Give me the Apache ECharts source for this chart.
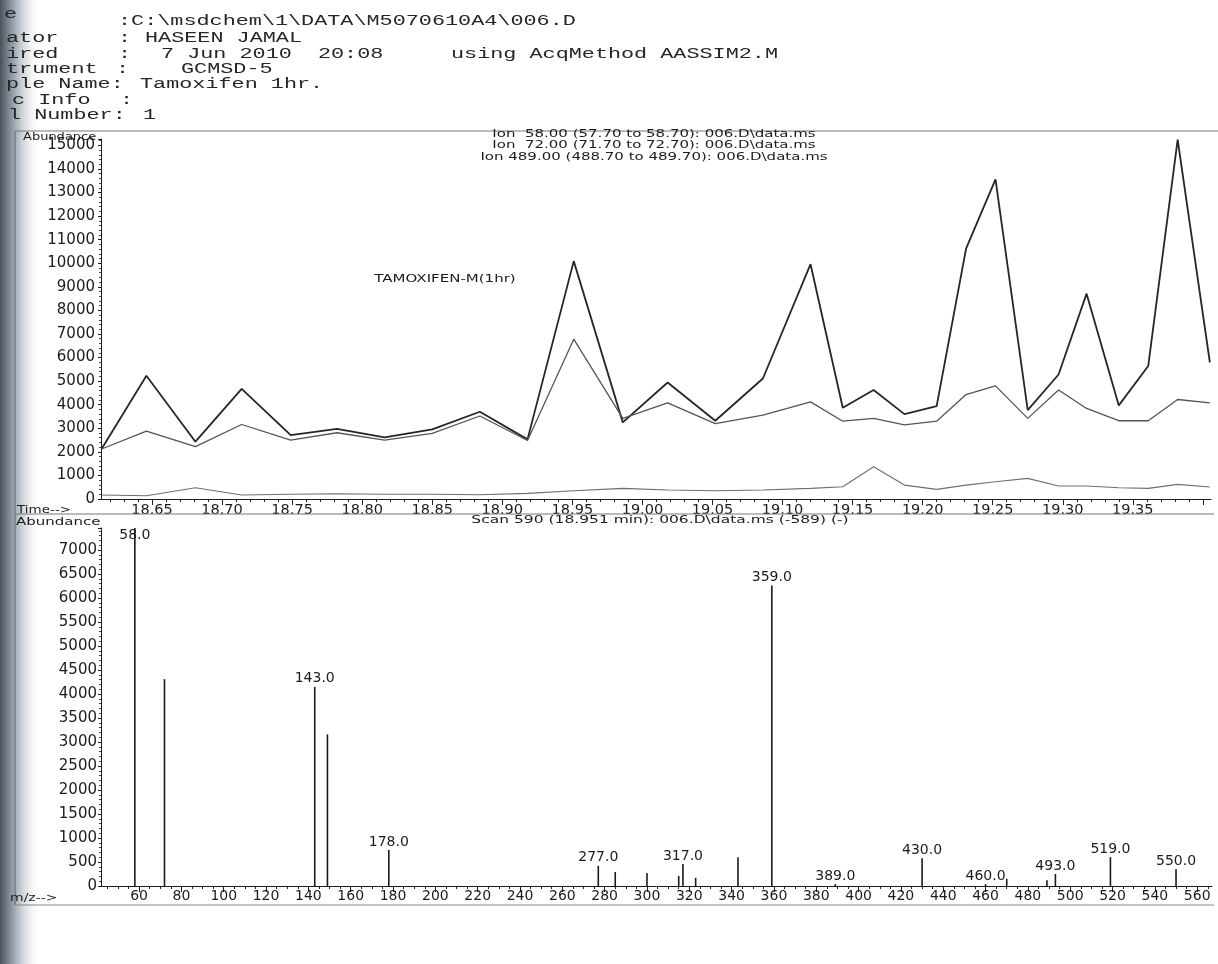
<!DOCTYPE html>
<html><head><meta charset="utf-8">
<script src="https://cdn.jsdelivr.net/npm/echarts@6/dist/echarts.min.js"></script>
<style>html,body{margin:0;padding:0;background:#fff}#c{width:1218px;height:964px}</style>
</head><body><div id="c"></div>
<script>
// ---------- data ----------
const scanTimes = [18.614, 18.646, 18.681, 18.714, 18.749, 18.782, 18.816, 18.850, 18.884, 18.918,
  18.951, 18.986, 19.018, 19.052, 19.086, 19.120, 19.143, 19.165, 19.187, 19.210,
  19.231, 19.252, 19.275, 19.297, 19.317, 19.340, 19.361, 19.382, 19.405];
const ion58 = [2120, 5230, 2430, 4670, 2710, 2970, 2610, 2950, 3700, 2530,
  10090, 3250, 4940, 3320, 5110, 9960, 3870, 4620, 3600, 3940,
  10620, 13560, 3770, 5280, 8710, 3970, 5640, 15240, 5790];
const ion72 = [2120, 2880, 2220, 3160, 2500, 2810, 2500, 2780, 3520, 2480,
  6780, 3420, 4080, 3200, 3560, 4120, 3300, 3420, 3140, 3300,
  4430, 4800, 3420, 4620, 3840, 3320, 3320, 4220, 4080];
const ion489 = [170, 140, 480, 170, 200, 220, 200, 200, 180, 240,
  350, 450, 380, 350, 380, 450, 520, 1370, 590, 410,
  590, 730, 875, 550, 550, 480, 450, 620, 510];
const timeTickLabels = [18.65, 18.70, 18.75, 18.80, 18.85, 18.90, 18.95, 19.00, 19.05, 19.10, 19.15, 19.20, 19.25, 19.30, 19.35];
const timeMajorTicks = [18.65, 18.70, 18.75, 18.80, 18.85, 18.90, 18.95, 19.00, 19.05, 19.10, 19.15, 19.20, 19.25, 19.30, 19.35, 19.40];

const mzValues = [58, 72, 143, 149, 178, 277, 285, 300, 315, 317, 323, 343, 359, 389, 430, 460, 470, 489, 493, 519, 550];
const mzAbundance = [7460, 4310, 4150, 3160, 750, 420, 290, 270, 210, 460, 170, 600, 6260, 40, 580, 40, 150, 120, 250, 600, 350];
const mzLabelled = [58, 143, 178, 277, 317, 359, 389, 430, 460, 493, 519, 550];
const mzTickLabels = [60, 80, 100, 120, 140, 160, 180, 200, 220, 240, 260, 280, 300, 320, 340, 360, 380, 400, 420, 440, 460, 480, 500, 520, 540, 560];

// ---------- helpers ----------
const FONT = 'DejaVu Sans';
const INK = '#1c1c1c';
function steps(a, b, s) { const r = []; for (let v = a; v <= b + 1e-9; v += s) r.push(Math.round(v * 1000) / 1000); return r; }
const timeMinorTicks = steps(18.62, 19.40, 0.01);
const mzMinorTicks = steps(45, 565, 5);

const T_MIN = 18.6136, T_MAX = 19.4058;
const MZ_MIN = 42, MZ_MAX = 567;

function txt(x, y, text, font, opts) {
  return Object.assign({
    type: 'text', x: x, y: y, z: 20, silent: true,
    style: Object.assign({ text: text, font: font, fill: INK, textVerticalAlign: 'middle', textAlign: 'left' }, (opts && opts.style) || {})
  }, (opts && opts.el) || {});
}
function ln(x1, y1, x2, y2, c, w) {
  return { type: 'line', z: 5, silent: true, shape: { x1, y1, x2, y2 }, style: { stroke: c || '#6a6a6a', lineWidth: w || 1 } };
}
const MONO = '21.8px "Liberation Mono"';
const mono = { el: { scaleY: 0.68 }, style: { fill: '#262626' } };
const plain = v => String(Math.round(v));
const R = [21, 38, 54, 69, 84, 100, 115]; // header row centres

const chart = echarts.init(document.getElementById('c'), null, { renderer: 'canvas' });
const option = {
  animation: false,
  backgroundColor: '#ffffff',
  grid: [
    { left: 101, top: 139, width: 1110, height: 360 },
    { left: 101, top: 528, width: 1111, height: 358 }
  ],
  xAxis: [
    { gridIndex: 0, type: 'value', min: T_MIN, max: T_MAX, position: 'bottom',
      axisLine: { show: true, onZero: false, lineStyle: { color: INK, width: 1 } },
      axisTick: { show: true, customValues: timeMajorTicks, length: 6, lineStyle: { color: INK } },
      axisLabel: { customValues: timeTickLabels, formatter: v => v.toFixed(2), fontFamily: FONT, fontSize: 14.5, color: INK, margin: 4 },
      splitLine: { show: false } },
    { gridIndex: 0, type: 'value', min: T_MIN, max: T_MAX, position: 'bottom',
      axisLine: { show: false, onZero: false },
      axisTick: { show: true, customValues: timeMinorTicks, length: 3, lineStyle: { color: INK } },
      axisLabel: { show: false }, splitLine: { show: false } },
    { gridIndex: 1, type: 'value', min: MZ_MIN, max: MZ_MAX, position: 'bottom',
      axisLine: { show: true, onZero: false, lineStyle: { color: INK, width: 1 } },
      axisTick: { show: true, customValues: mzTickLabels, length: 6, lineStyle: { color: INK } },
      axisLabel: { customValues: mzTickLabels, formatter: plain, fontFamily: FONT, fontSize: 14, color: INK, margin: 3 },
      splitLine: { show: false } },
    { gridIndex: 1, type: 'value', min: MZ_MIN, max: MZ_MAX, position: 'bottom',
      axisLine: { show: false, onZero: false },
      axisTick: { show: true, customValues: mzMinorTicks, length: 3, lineStyle: { color: INK } },
      axisLabel: { show: false }, splitLine: { show: false } }
  ],
  yAxis: [
    { gridIndex: 0, type: 'value', min: 0, max: 15270, interval: 1000,
      axisLine: { show: true, lineStyle: { color: INK, width: 1 } },
      axisTick: { show: true, length: 3, lineStyle: { color: INK } },
      minorTick: { show: true, splitNumber: 5, length: 2, lineStyle: { color: '#444' } },
      axisLabel: { showMaxLabel: false, formatter: plain, fontFamily: FONT, fontSize: 15, color: INK, margin: 6 },
      splitLine: { show: false }, minorSplitLine: { show: false } },
    { gridIndex: 1, type: 'value', min: 0, max: 7460, interval: 500,
      axisLine: { show: true, lineStyle: { color: INK, width: 1 } },
      axisTick: { show: true, length: 3, lineStyle: { color: INK } },
      minorTick: { show: true, splitNumber: 5, length: 2, lineStyle: { color: '#444' } },
      axisLabel: { showMaxLabel: false, formatter: plain, fontFamily: FONT, fontSize: 15, color: INK, margin: 4 },
      splitLine: { show: false }, minorSplitLine: { show: false } }
  ],
  series: [
    { name: 'Ion 58.00', type: 'line', xAxisIndex: 0, yAxisIndex: 0, symbol: 'none', silent: true,
      data: scanTimes.map((t, i) => [t, ion58[i]]), lineStyle: { color: '#262626', width: 1.8 } },
    { name: 'Ion 72.00', type: 'line', xAxisIndex: 0, yAxisIndex: 0, symbol: 'none', silent: true,
      data: scanTimes.map((t, i) => [t, ion72[i]]), lineStyle: { color: '#555555', width: 1.3 } },
    { name: 'Ion 489.00', type: 'line', xAxisIndex: 0, yAxisIndex: 0, symbol: 'none', silent: true,
      data: scanTimes.map((t, i) => [t, ion489[i]]), lineStyle: { color: '#6e6e6e', width: 1.1 } },
    { name: 'Scan 590', type: 'bar', xAxisIndex: 2, yAxisIndex: 1, barWidth: 1.6, silent: true,
      itemStyle: { color: '#1a1a1a' },
      label: { show: false, position: 'top', distance: 1, formatter: p => p.value[0].toFixed(1),
        fontFamily: FONT, fontSize: 14, color: INK },
      data: mzValues.map((m, i) => {
        const item = { value: [m, mzAbundance[i]] };
        if (mzLabelled.includes(m)) {
          item.label = (i === 0) ? { show: true, position: 'insideTop', distance: 0, color: INK } : { show: true };
        }
        return item;
      }) }
  ],
  graphic: { elements: [
    { type: 'rect', z: 1, silent: true, shape: { x: 0, y: 0, width: 42, height: 964 },
      style: { fill: new echarts.graphic.LinearGradient(0, 0, 1, 0, [
        { offset: 0, color: '#4a525c' }, { offset: 0.18, color: '#76818c' },
        { offset: 0.5, color: '#c6ced5' }, { offset: 1, color: 'rgba(255,255,255,0)' }]) } },
    // frame lines
    ln(15, 131, 1218, 131, '#777', 1),
    ln(15, 514, 1214, 514, '#777', 1),
    ln(15, 905, 1214, 905, '#888', 1),
    ln(15, 131, 15, 905, '#666', 1),
    // header (typewriter style)
    txt(4, 14, 'e', MONO, mono),
    txt(118, R[0], ':C:\\msdchem\\1\\DATA\\M5070610A4\\006.D', MONO, mono),
    txt(6, R[1], 'ator', MONO, mono), txt(118, R[1], ':', MONO, mono), txt(145, R[1], 'HASEEN JAMAL', MONO, mono),
    txt(6, R[2], 'ired', MONO, mono), txt(118, R[2], ':', MONO, mono), txt(161, R[2], '7 Jun 2010  20:08', MONO, mono),
    txt(451, R[2], 'using AcqMethod AASSIM2.M', MONO, mono),
    txt(6, R[3], 'trument', MONO, mono), txt(116, R[3], ':', MONO, mono), txt(181, R[3], 'GCMSD-5', MONO, mono),
    txt(6, R[4], 'ple Name:', MONO, mono), txt(140, R[4], 'Tamoxifen 1hr.', MONO, mono),
    txt(12, R[5], 'c Info', MONO, mono), txt(120, R[5], ':', MONO, mono),
    txt(8, R[6], 'l Number:', MONO, mono), txt(143, R[6], '1', MONO, mono),
    // chart titles
    txt(654, 134, 'Ion  58.00 (57.70 to 58.70): 006.D\\data.ms', '15px "DejaVu Sans"', { el: { scaleY: 0.7 }, style: { textAlign: 'center' } }),
    txt(654, 145.5, 'Ion  72.00 (71.70 to 72.70): 006.D\\data.ms', '15px "DejaVu Sans"', { el: { scaleY: 0.7 }, style: { textAlign: 'center' } }),
    txt(654, 157, 'Ion 489.00 (488.70 to 489.70): 006.D\\data.ms', '15px "DejaVu Sans"', { el: { scaleY: 0.7 }, style: { textAlign: 'center' } }),
    txt(445, 279, 'TAMOXIFEN-M(1hr)', '15px "DejaVu Sans"', { el: { scaleY: 0.75 }, style: { textAlign: 'center' } }),
    txt(23, 137, 'Abundance', '13px "DejaVu Sans"', { el: { scaleY: 0.8 } }),
    txt(17, 510, 'Time-->', '13.5px "DejaVu Sans"', { el: { scaleY: 0.8 } }),
    txt(16, 522, 'Abundance', '15px "DejaVu Sans"', { el: { scaleY: 0.75 } }),
    txt(660, 520, 'Scan 590 (18.951 min): 006.D\\data.ms (-589) (-)', '15.5px "DejaVu Sans"', { el: { scaleY: 0.7 }, style: { textAlign: 'center' } }),
    txt(10, 898, 'm/z-->', '14px "DejaVu Sans"', { el: { scaleY: 0.8 } })
  ] }
};
chart.setOption(option);
</script>
</body></html>
